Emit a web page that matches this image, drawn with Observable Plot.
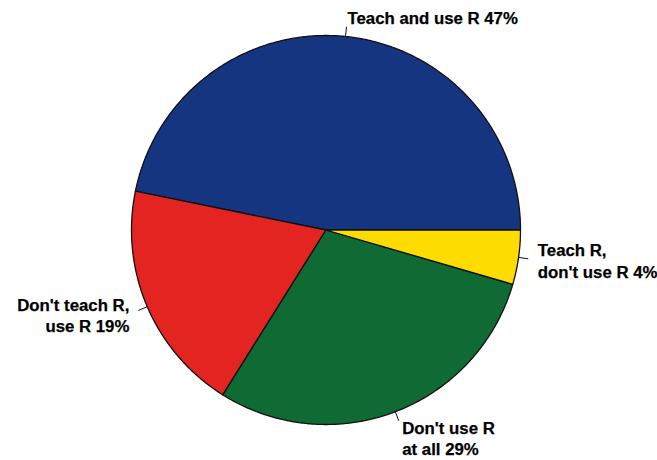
<!DOCTYPE html>
<html>
<head>
<meta charset="utf-8">
<script src="https://cdn.jsdelivr.net/npm/d3@7"></script>
<script src="https://cdn.jsdelivr.net/npm/@observablehq/plot@0.6"></script>
<style>
  html, body { margin: 0; padding: 0; background: #ffffff; }
  #chart svg { display: block; }
</style>
</head>
<body>
<div id="chart"></div>
<script>
// ---- data ----
const categories = ["Teach and use R", "Don't teach R, use R", "Don't use R at all", "Teach R, don't use R"];
const shares = [46.8, 19.3, 29.4, 4.5];            // drawn slice sizes (%)
const labels = ["Teach and use R 47%", "Don't teach R,\nuse R 19%", "Don't use R\nat all 29%", "Teach R,\ndon't use R 4%"];
const colors = ["#163581", "#E42421", "#0F6B33", "#FFDC00"];

// ---- layout ----
const W = 657, H = 460;
const cx = 325.5, cy = 229.5, R = 194.5;

// slices counter-clockwise from 3 o'clock (R pie style)
const total = d3.sum(shares);
let acc = 0;
const slices = categories.map((c, i) => {
  const a0 = acc / total * 2 * Math.PI;
  acc += shares[i];
  const a1 = acc / total * 2 * Math.PI;
  return {cat: c, label: labels[i], a0, a1, mid: (a0 + a1) / 2};
});

const pts = [];
for (const s of slices) {
  const n = Math.max(2, Math.ceil((s.a1 - s.a0) / (Math.PI / 360)));
  pts.push({cat: s.cat, x: 0, y: 0});
  for (let k = 0; k <= n; k++) {
    const a = s.a0 + (s.a1 - s.a0) * k / n;
    pts.push({cat: s.cat, x: Math.cos(a), y: Math.sin(a)});
  }
  pts.push({cat: s.cat, x: 0, y: 0});
}

const font = "'Liberation Sans', Arial, Helvetica, sans-serif";
const textOpts = {fontSize: 16.8, fontWeight: "bold", fontFamily: font, fill: "#000", stroke: "#000", strokeWidth: 0.25, lineHeight: 1.27};
const lx = d => 1.1 * Math.cos(d.mid), ly = d => 1.1 * Math.sin(d.mid);
const isBottom = d => Math.sin(d.mid) < -0.9;
const right = slices.filter(d => Math.cos(d.mid) >= 0 && !isBottom(d));
const left = slices.filter(d => Math.cos(d.mid) < 0 && !isBottom(d));
const bottom = slices.filter(isBottom);

const chart = Plot.plot({
  width: W,
  height: H,
  margin: 0,
  style: {background: "#ffffff"},
  x: {domain: [-cx / R, (W - cx) / R], range: [0, W], axis: null},
  y: {domain: [-(H - cy) / R, cy / R], range: [H, 0], axis: null},
  color: {type: "ordinal", domain: categories, range: colors},
  marks: [
    Plot.line(pts, {x: "x", y: "y", z: "cat", fill: "cat", stroke: "#111", strokeWidth: 1.3, strokeLinejoin: "round", curve: "linear"}),
    Plot.link(slices, {x1: d => Math.cos(d.mid), y1: d => Math.sin(d.mid), x2: d => 1.05 * Math.cos(d.mid), y2: d => 1.05 * Math.sin(d.mid), stroke: "#111", strokeWidth: 1}),
    Plot.text(right, {x: lx, y: ly, text: "label", textAnchor: "start", ...textOpts}),
    Plot.text(left, {x: lx, y: ly, text: "label", textAnchor: "end", ...textOpts}),
    Plot.text(bottom, {x: lx, y: ly, text: "label", textAnchor: "start", lineAnchor: "top", dy: -11, ...textOpts})
  ]
});
document.getElementById("chart").appendChild(chart);
</script>
</body>
</html>
